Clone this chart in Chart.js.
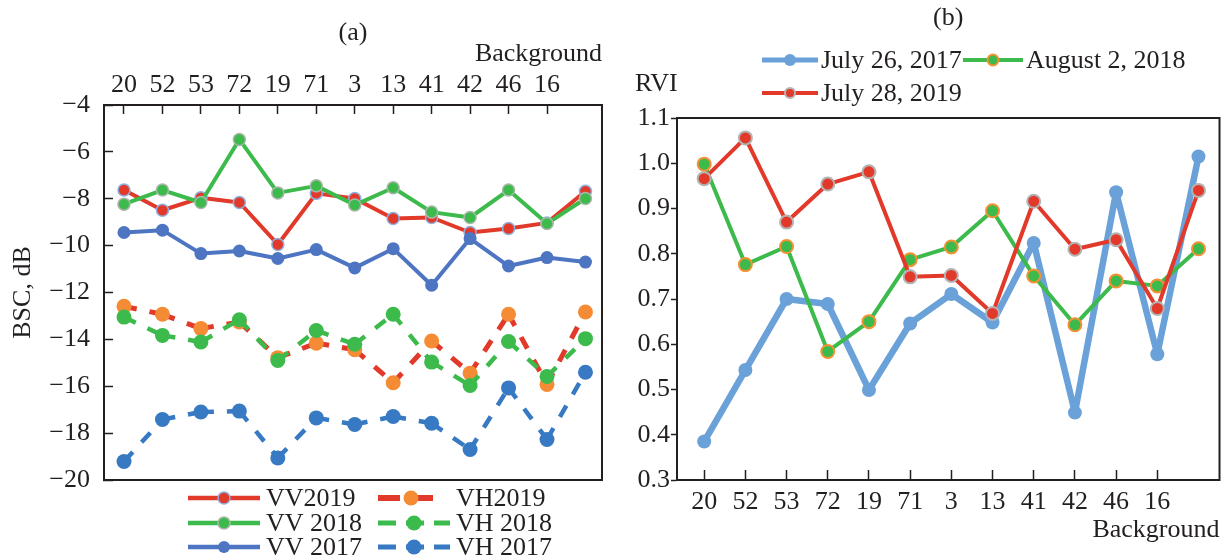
<!DOCTYPE html>
<html><head><meta charset="utf-8">
<script src="https://cdn.jsdelivr.net/npm/chart.js@4/dist/chart.umd.min.js"></script>
<style>
html,body{margin:0;padding:0;background:#fff;}
#wrap{position:relative;width:1228px;height:559px;overflow:hidden;}
.box{position:absolute;top:0;height:559px;}
</style></head><body>
<div id="wrap">
  <div class="box" style="left:0;width:615px"><canvas id="c1" width="615" height="559"></canvas></div>
  <div class="box" style="left:615px;width:613px"><canvas id="c2" width="613" height="559"></canvas></div>
</div>
<script>
// ---------- data ----------
const categories = ['20','52','53','72','19','71','3','13','41','42','46','16','Background'];

const vv2019 = [-7.63, -8.49, -7.96, -8.16, -9.95, -7.77, -7.99, -8.84, -8.80, -9.44, -9.27, -9.03, -7.68];
const vh2019 = [-12.59, -12.93, -13.54, -13.26, -14.78, -14.16, -14.44, -15.85, -14.07, -15.44, -12.93, -15.92, -12.83];
const vv2018 = [-8.23, -7.63, -8.16, -5.47, -7.75, -7.45, -8.27, -7.53, -8.57, -8.80, -7.63, -9.06, -7.99];
const vh2018 = [-13.05, -13.83, -14.11, -13.16, -14.90, -13.62, -14.21, -12.93, -14.97, -15.97, -14.09, -15.58, -13.97];
const vv2017 = [-9.44, -9.34, -10.34, -10.23, -10.55, -10.17, -10.95, -10.13, -11.69, -9.70, -10.87, -10.51, -10.70];
const vh2017 = [-19.21, -17.42, -17.10, -17.06, -19.06, -17.35, -17.63, -17.29, -17.58, -18.70, -16.07, -18.27, -15.40];

const rviJuly2017 = [0.385, 0.543, 0.700, 0.689, 0.499, 0.646, 0.711, 0.648, 0.824, 0.449, 0.936, 0.578, 1.015];
const rviAug2018  = [0.998, 0.776, 0.816, 0.584, 0.650, 0.787, 0.815, 0.895, 0.751, 0.643, 0.740, 0.729, 0.811];
const rviJuly2019 = [0.966, 1.056, 0.870, 0.954, 0.981, 0.749, 0.752, 0.668, 0.916, 0.810, 0.831, 0.679, 0.940];

const bscTicks = [-20, -18, -16, -14, -12, -10, -8, -6, -4];
const rviTicks = [0.3, 0.4, 0.5, 0.6, 0.7, 0.8, 0.9, 1.0, 1.1];

// ---------- styling ----------
const FONT = "'Liberation Serif', 'Times New Roman', serif";
const INK = '#231f20';
const RED = '#e23a2a', ORANGE = '#f68b36', GREEN = '#3dba4c', BLUE = '#4d75c2', BLUE2 = '#3779c2';
const LBLUE = '#6aa1d8', RED2 = '#e2392a', GREEN2 = '#3cba4b';
const f26 = {family: FONT, size: 26, lineHeight: 1, weight: 'normal'};

const pts = arr => arr.map((v, i) => ({x: i, y: v}));
const restartDash = c => c.p0DataIndex * 0.001; // restart dash pattern on each segment

const framePlugin = {
  id: 'frame',
  afterDraw(chart) {
    const {ctx, chartArea: a} = chart;
    ctx.save();
    ctx.strokeStyle = INK; ctx.lineWidth = 2;
    ctx.strokeRect(a.left, a.top, a.right - a.left, a.bottom - a.top);
    ctx.restore();
  }
};

const sampleLegend = {
  id: 'sampleLegend',
  afterDraw(chart, args, opts) {
    if (!opts || !opts.items) return;
    const ctx = chart.ctx;
    ctx.save();
    ctx.font = `${opts.size}px ${FONT}`;
    ctx.textBaseline = 'middle';
    opts.items.forEach(it => {
      const ds = chart.data.datasets[it.ds];
      ctx.beginPath();
      ctx.setLineDash(it.dash || []);
      ctx.strokeStyle = ds.borderColor;
      ctx.lineWidth = it.lw;
      ctx.lineCap = 'butt';
      ctx.moveTo(it.x0, it.y); ctx.lineTo(it.x1, it.y); ctx.stroke();
      ctx.setLineDash([]);
      ctx.beginPath();
      ctx.arc(it.mx !== undefined ? it.mx : (it.x0 + it.x1) / 2, it.y, it.r, 0, Math.PI * 2);
      ctx.fillStyle = ds.pointBackgroundColor; ctx.fill();
      if (ds.pointBorderWidth) { ctx.lineWidth = ds.pointBorderWidth; ctx.strokeStyle = ds.pointBorderColor; ctx.stroke(); }
      ctx.fillStyle = INK; ctx.textAlign = 'left';
      ctx.fillText(ds.label, it.tx, it.y + 1);
    });
    (opts.texts || []).forEach(t => {
      ctx.fillStyle = INK; ctx.textAlign = 'left';
      ctx.fillText(t.text, t.x, t.y);
    });
    ctx.restore();
  }
};

const common = {borderJoinStyle: 'round', borderCapStyle: 'butt'};

// ---------- chart (a) ----------
new Chart(document.getElementById('c1'), {
  type: 'line',
  data: {
    datasets: [
      {...common, label: 'VV2019', data: pts(vv2019), borderColor: RED, borderWidth: 4, pointRadius: 6, pointBackgroundColor: RED, pointBorderColor: '#8db2e2', pointBorderWidth: 1.5, order: 5},
      {...common, label: 'VH2019', data: pts(vh2019), borderColor: RED, borderWidth: 5, borderDash: [13, 13], pointRadius: 7.5, pointBackgroundColor: ORANGE, pointBorderColor: ORANGE, pointBorderWidth: 0, order: 6, segment: {borderDashOffset: restartDash}},
      {...common, label: 'VV 2018', data: pts(vv2018), borderColor: GREEN, borderWidth: 4, pointRadius: 6, pointBackgroundColor: GREEN, pointBorderColor: '#aab6aa', pointBorderWidth: 1.5, order: 3},
      {...common, label: 'VH 2018', data: pts(vh2018), borderColor: GREEN, borderWidth: 4.5, borderDash: [13, 13], pointRadius: 7.5, pointBackgroundColor: GREEN, pointBorderColor: GREEN, pointBorderWidth: 0, order: 4, segment: {borderDashOffset: restartDash}},
      {...common, label: 'VV 2017', data: pts(vv2017), borderColor: BLUE, borderWidth: 4, pointRadius: 6.5, pointBackgroundColor: BLUE, pointBorderColor: BLUE, pointBorderWidth: 0, order: 1},
      {...common, label: 'VH 2017', data: pts(vh2017), borderColor: BLUE2, borderWidth: 4.5, borderDash: [13, 13], pointRadius: 7.5, pointBackgroundColor: BLUE2, pointBorderColor: BLUE2, pointBorderWidth: 0, order: 2, segment: {borderDashOffset: restartDash}}
    ]
  },
  options: {
    responsive: false, animation: false, events: [],
    layout: {padding: {left: 10, right: 13, top: 0, bottom: 79}},
    plugins: {
      legend: {display: false}, tooltip: {enabled: false},
      title: {display: true, text: '(a)', fullSize: false, font: f26, color: INK, padding: {top: 20, bottom: -5}},
      sampleLegend: {
        size: 26,
        items: [
          {ds: 0, x0: 188, x1: 260, tx: 266, y: 498, lw: 4.5, r: 6},
          {ds: 1, x0: 378, x1: 444, tx: 456, y: 498, lw: 6, r: 7.5, dash: [22, 11]},
          {ds: 2, x0: 188, x1: 260, tx: 266, y: 523, lw: 4.5, r: 6},
          {ds: 3, x0: 378, x1: 450, tx: 456, y: 523, lw: 5, r: 7.5, dash: [18, 10]},
          {ds: 4, x0: 188, x1: 260, tx: 266, y: 547, lw: 4.5, r: 6},
          {ds: 5, x0: 378, x1: 450, tx: 456, y: 547, lw: 5, r: 7.5, dash: [18, 10]}
        ]
      }
    },
    scales: {
      x: {
        type: 'linear', position: 'top', min: -0.52, max: 12.43,
        afterBuildTicks: s => { s.ticks = categories.slice(0, 12).map((_, i) => ({value: i})); },
        afterFit: s => { s.height = 64; },
        ticks: {autoSkip: false, maxRotation: 0, callback: v => categories[v], font: f26, color: INK, padding: 16},
        grid: {drawOnChartArea: false, tickLength: -9, tickColor: INK, tickWidth: 1.5},
        border: {display: true, color: INK, width: 2},
        title: {display: true, text: categories[12], align: 'end', font: f26, color: INK, padding: 0}
      },
      y: {
        min: bscTicks[0], max: bscTicks[bscTicks.length - 1],
        afterBuildTicks: s => { s.ticks = bscTicks.map(v => ({value: v})); },
        afterFit: s => { s.width = 94; },
        ticks: {callback: v => (v < 0 ? '\u2212' : '') + Math.abs(v), font: f26, color: INK, padding: 23},
        grid: {drawOnChartArea: false, tickLength: -9, tickColor: INK, tickWidth: 1.5},
        border: {display: true, color: INK, width: 2},
        title: {display: true, text: 'BSC, dB', font: f26, color: INK, padding: 0}
      }
    }
  },
  plugins: [framePlugin, sampleLegend]
});

// ---------- chart (b) ----------
new Chart(document.getElementById('c2'), {
  type: 'line',
  data: {
    datasets: [
      {...common, label: 'July 26, 2017', data: pts(rviJuly2017), borderColor: LBLUE, borderWidth: 6.5, pointRadius: 7, pointBackgroundColor: LBLUE, pointBorderColor: LBLUE, pointBorderWidth: 0, order: 3},
      {...common, label: 'August 2, 2018', data: pts(rviAug2018), borderColor: GREEN2, borderWidth: 4, pointRadius: 6.5, pointBackgroundColor: GREEN2, pointBorderColor: '#f39233', pointBorderWidth: 2, order: 2},
      {...common, label: 'July 28, 2019', data: pts(rviJuly2019), borderColor: RED2, borderWidth: 4, pointRadius: 6.5, pointBackgroundColor: RED2, pointBorderColor: '#b3b3b3', pointBorderWidth: 2, order: 1}
    ]
  },
  options: {
    responsive: false, animation: false, events: [],
    layout: {padding: {left: 0, right: 2, top: 5, bottom: 16}},
    plugins: {
      legend: {display: false}, tooltip: {enabled: false},
      title: {display: true, text: '(b)', fullSize: false, font: f26, color: INK, padding: {top: 0, bottom: 87}},
      sampleLegend: {
        size: 26,
        items: [
          {ds: 0, x0: 147, x1: 203, tx: 206, y: 60, lw: 5, r: 6},
          {ds: 1, x0: 348, x1: 408, tx: 411, y: 60, lw: 4, r: 5.5},
          {ds: 2, x0: 147, x1: 203, tx: 206, y: 93, lw: 4, r: 5}
        ],
        texts: [{text: 'RVI', x: 20, y: 84}]
      }
    },
    scales: {
      x: {
        type: 'linear', position: 'bottom', min: -0.66, max: 12.51,
        afterBuildTicks: s => { s.ticks = categories.slice(0, 12).map((_, i) => ({value: i})); },
        afterFit: s => { s.height = 63; },
        ticks: {autoSkip: false, maxRotation: 0, callback: v => categories[v], font: f26, color: INK, padding: 19},
        grid: {drawOnChartArea: false, tickLength: -10, tickColor: INK, tickWidth: 1.5},
        border: {display: true, color: INK, width: 2},
        title: {display: true, text: categories[12], align: 'end', font: f26, color: INK, padding: 0}
      },
      y: {
        min: rviTicks[0], max: rviTicks[rviTicks.length - 1],
        afterBuildTicks: s => { s.ticks = rviTicks.map(v => ({value: v})); },
        afterFit: s => { s.width = 62; },
        ticks: {callback: v => v.toFixed(1), font: f26, color: INK, padding: 1},
        grid: {drawOnChartArea: false, tickLength: 6, tickColor: INK, tickWidth: 1.5},
        border: {display: true, color: INK, width: 2}
      }
    }
  },
  plugins: [framePlugin, sampleLegend]
});
</script>
</body></html>
